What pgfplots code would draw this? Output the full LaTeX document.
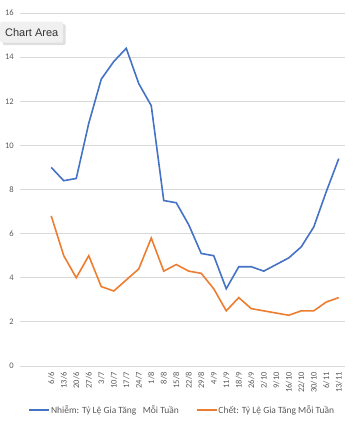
\documentclass[border=0pt]{standalone}
\usepackage{pgfplots}
\pgfplotsset{compat=1.18}
\usepackage{fontspec}
\setmainfont{Carlito}
\newfontfamily\lib{Liberation Sans}
\usetikzlibrary{shadows}
\definecolor{blueS}{HTML}{4472C4}
\definecolor{orangeS}{HTML}{ED7D31}
\definecolor{gridc}{HTML}{D9D9D9}
\definecolor{txt}{HTML}{595959}
\begin{document}
\begin{tikzpicture}
\path[use as bounding box] (0pt,0pt) rectangle (356pt,-422pt);
\begin{axis}[
  at={(20pt,-366pt)}, anchor=south west,
  scale only axis, width=325pt, height=353pt,
  xmin=-2.5, xmax=23.5, ymin=0, ymax=16,
  ytick={0,2,...,16},
  xtick={0,...,23},
  xticklabels={6/6,13/6,20/6,27/6,3/7,10/7,17/7,24/7,1/8,8/8,15/8,22/8,29/8,4/9,11/9,18/9,26/9,2/10,9/10,16/10,22/10,30/10,6/11,13/11},
  axis line style={draw=none},
  major tick length=0pt,
  ymajorgrids, grid style={gridc, line width=0.8pt},
  /pgf/number format/assume math mode=true,
  tick label style={font=\fontsize{8.5}{9}\selectfont, text=txt},
  yticklabel style={inner sep=1pt, xshift=-5pt},
  xticklabel style={rotate=90, anchor=east, inner sep=1pt, xshift=-5pt},
  xtick pos=bottom,
  legend columns=2,
  legend style={at={(0.498,-0.1246)}, anchor=center, draw=none, fill=none,
    font=\fontsize{9.5}{10}\selectfont\color{txt},
    nodes={inner xsep=1pt},
    /tikz/every even column/.append style={column sep=16pt}},
  legend image code/.code={\draw[#1] (0pt,0pt) -- (20pt,0pt);},
]
\addplot[blueS, line width=1.6pt] table[row sep=\\] {
x y\\ 0 9.0\\ 1 8.4\\ 2 8.5\\ 3 11.0\\ 4 13.0\\ 5 13.8\\ 6 14.4\\ 7 12.8\\ 8 11.8\\ 9 7.5\\ 10 7.4\\ 11 6.4\\ 12 5.1\\ 13 5.0\\ 14 3.5\\ 15 4.5\\ 16 4.5\\ 17 4.3\\ 18 4.6\\ 19 4.9\\ 20 5.4\\ 21 6.3\\ 22 7.9\\ 23 9.4\\
};
\addlegendentry{Nhiễm: Tỷ Lệ Gia Tăng\ \ \ Mỗi Tuần}
\addplot[orangeS, line width=1.6pt] table[row sep=\\] {
x y\\ 0 6.8\\ 1 5.0\\ 2 4.0\\ 3 5.0\\ 4 3.6\\ 5 3.4\\ 6 3.9\\ 7 4.4\\ 8 5.8\\ 9 4.3\\ 10 4.6\\ 11 4.3\\ 12 4.2\\ 13 3.5\\ 14 2.5\\ 15 3.1\\ 16 2.6\\ 17 2.5\\ 18 2.4\\ 19 2.3\\ 20 2.5\\ 21 2.5\\ 22 2.9\\ 23 3.1\\
};
\addlegendentry{Chết: Tỷ Lệ Gia Tăng Mỗi Tuần}
\end{axis}
\node[fill=gray!12, rounded corners=2pt, drop shadow={opacity=0.25}, anchor=north west,
  font=\lib\fontsize{11}{12}\selectfont, text=black!80, inner xsep=3pt, inner ysep=0pt,
  minimum width=63pt, minimum height=21pt] at (0pt,-21.5pt) {Chart Area};
\end{tikzpicture}
\end{document}
